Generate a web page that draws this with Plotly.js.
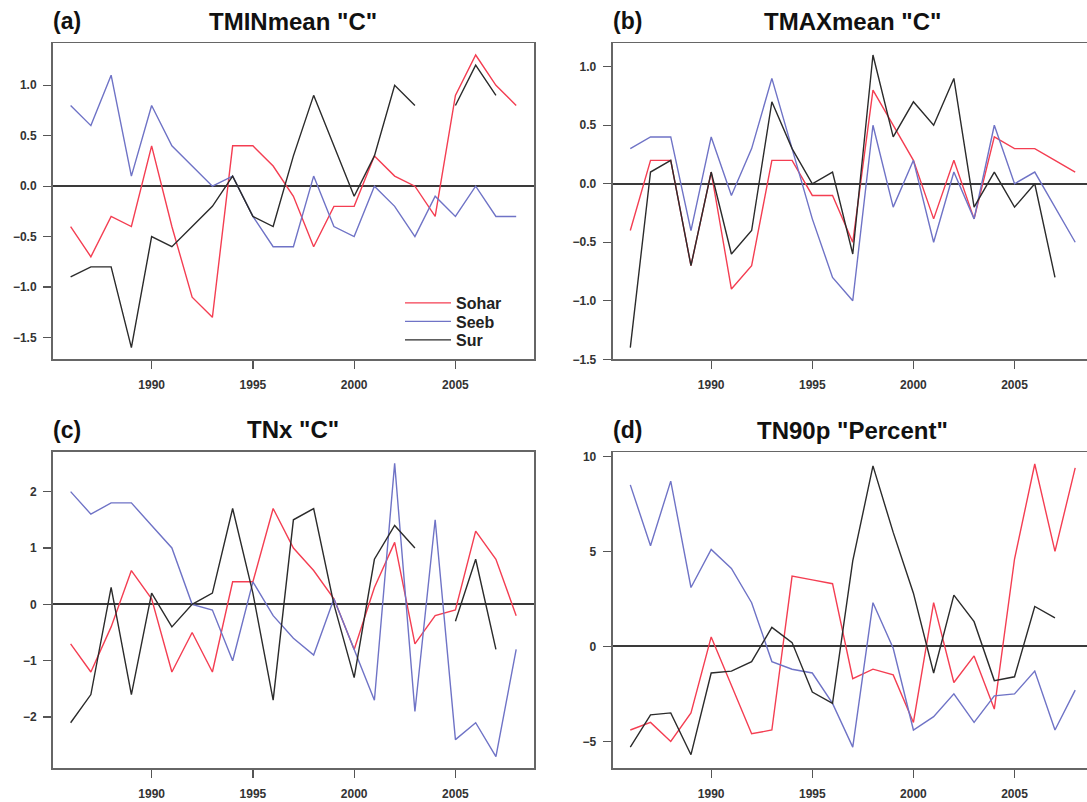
<!DOCTYPE html>
<html>
<head>
<meta charset="utf-8">
<script src="https://cdn.plot.ly/plotly-3.0.1.min.js"></script>
<style>
html, body { margin: 0; padding: 0; background: #fff; overflow: hidden; }
#chart { width: 1100px; height: 802px; }
</style>
</head>
<body>
<div id="chart"></div>
<script>
// ---- Data ----
const years = [1986,1987,1988,1989,1990,1991,1992,1993,1994,1995,1996,1997,1998,1999,2000,2001,2002,2003,2004,2005,2006,2007,2008];
const stations = ["Sohar", "Seeb", "Sur"];

const tminSohar = [-0.4,-0.7,-0.3,-0.4,0.4,-0.4,-1.1,-1.3,0.4,0.4,0.2,-0.1,-0.6,-0.2,-0.2,0.3,0.1,0.0,-0.3,0.9,1.3,1.0,0.8];
const tminSeeb  = [0.8,0.6,1.1,0.1,0.8,0.4,0.2,0.0,0.1,-0.3,-0.6,-0.6,0.1,-0.4,-0.5,0.0,-0.2,-0.5,-0.1,-0.3,0.0,-0.3,-0.3];
const tminSur   = [-0.9,-0.8,-0.8,-1.6,-0.5,-0.6,-0.4,-0.2,0.1,-0.3,-0.4,0.3,0.9,0.4,-0.1,0.3,1.0,0.8,null,0.8,1.2,0.9,null];

const tmaxSohar = [-0.4,0.2,0.2,-0.7,0.1,-0.9,-0.7,0.2,0.2,-0.1,-0.1,-0.5,0.8,0.5,0.2,-0.3,0.2,-0.3,0.4,0.3,0.3,0.2,0.1];
const tmaxSeeb  = [0.3,0.4,0.4,-0.4,0.4,-0.1,0.3,0.9,0.3,-0.3,-0.8,-1.0,0.5,-0.2,0.2,-0.5,0.1,-0.3,0.5,0.0,0.1,-0.2,-0.5];
const tmaxSur   = [-1.4,0.1,0.2,-0.7,0.1,-0.6,-0.4,0.7,0.3,0.0,0.1,-0.6,1.1,0.4,0.7,0.5,0.9,-0.2,0.1,-0.2,0.0,-0.8,null];

const tnxSohar = [-0.7,-1.2,-0.4,0.6,0.1,-1.2,-0.5,-1.2,0.4,0.4,1.7,1.0,0.6,0.1,-0.8,0.3,1.1,-0.7,-0.2,-0.1,1.3,0.8,-0.2];
const tnxSeeb  = [2.0,1.6,1.8,1.8,1.4,1.0,0.0,-0.1,-1.0,0.4,-0.2,-0.6,-0.9,0.1,-0.8,-1.7,2.5,-1.9,1.5,-2.4,-2.1,-2.7,-0.8];
const tnxSur   = [-2.1,-1.6,0.3,-1.6,0.2,-0.4,0.0,0.2,1.7,0.2,-1.7,1.5,1.7,0.0,-1.3,0.8,1.4,1.0,null,-0.3,0.8,-0.8,null];

const tn90Sohar = [-4.4,-4.0,-5.0,-3.5,0.5,-2.0,-4.6,-4.4,3.7,3.5,3.3,-1.7,-1.2,-1.5,-4.0,2.3,-1.9,-0.5,-3.3,4.6,9.6,5.0,9.4];
const tn90Seeb  = [8.5,5.3,8.7,3.1,5.1,4.1,2.3,-0.8,-1.2,-1.4,-3.0,-5.3,2.3,-0.1,-4.4,-3.7,-2.5,-4.0,-2.6,-2.5,-1.3,-4.4,-2.3];
const tn90Sur   = [-5.3,-3.6,-3.5,-5.7,-1.4,-1.3,-0.8,1.0,0.2,-2.4,-3.0,4.5,9.5,6.0,2.8,-1.4,2.7,1.3,-1.8,-1.6,2.1,1.5,null];

const panelLabels = ["(a)", "(b)", "(c)", "(d)"];
const panelTitles = ['TMINmean "C"', 'TMAXmean "C"', 'TNx "C"', 'TN90p "Percent"'];
const xTicks = [1990, 1995, 2000, 2005];
const yTicksA = [-1.5, -1.0, -0.5, 0.0, 0.5, 1.0];
const yTicksB = [-1.5, -1.0, -0.5, 0.0, 0.5, 1.0];
const yTicksC = [-2, -1, 0, 1, 2];
const yTicksD = [-5, 0, 5, 10];

// ---- Styling / layout ----
const W = 1100, H = 802;
const colors = ["#f43e52", "#6f73c6", "#2b2b2b"];
const FONT = "Liberation Sans, Arial, sans-serif";
const legendIds = ["legend", "legend2", "legend3"];
const legendRowsY = [303, 321.5, 340];

const panels = [
  {series: [tminSohar, tminSeeb, tminSur], ticks: yTicksA, fmt: ".1f", range: [-1.716, 1.416], box: [52.8, 534, 43.3, 359.3]},
  {series: [tmaxSohar, tmaxSeeb, tmaxSur], ticks: yTicksB, fmt: ".1f", range: [-1.5, 1.2],     box: [612.5, 1093, 43.3, 359.3]},
  {series: [tnxSohar, tnxSeeb, tnxSur],    ticks: yTicksC, fmt: "d",   range: [-2.908, 2.708], box: [52.8, 534, 451.7, 768.3]},
  {series: [tn90Sohar, tn90Seeb, tn90Sur], ticks: yTicksD, fmt: "d",   range: [-6.416, 10.216], box: [612.5, 1093, 452.3, 768.3]}
];

const traces = [];
const layout = {
  width: W, height: H,
  margin: {l: 0, r: 0, t: 0, b: 0},
  paper_bgcolor: "#fff", plot_bgcolor: "#fff",
  font: {family: FONT, color: "#222"},
  showlegend: true,
  annotations: []
};

legendIds.forEach((id, k) => {
  layout[id] = {
    x: 400 / W, y: 1 - legendRowsY[k] / H, xanchor: "left", yanchor: "middle",
    bgcolor: "rgba(0,0,0,0)", borderwidth: 0,
    font: {family: FONT, size: 16, color: "#222", weight: "bold"},
    itemwidth: 46
  };
});

panels.forEach((p, i) => {
  const n = i + 1;
  const xa = "x" + (n === 1 ? "" : n), ya = "y" + (n === 1 ? "" : n);
  p.series.forEach((vals, k) => {
    traces.push({
      x: years, y: vals, type: "scatter", mode: "lines",
      name: stations[k], xaxis: xa, yaxis: ya,
      line: {color: colors[k], width: 1.4},
      connectgaps: false, showlegend: i === 0, legend: legendIds[k], hoverinfo: "skip"
    });
  });
  const [x0, x1, y0, y1] = p.box;
  const axCommon = {
    showline: true, mirror: true, linecolor: "#666", linewidth: 1.8,
    ticks: "outside", ticklen: 8, tickwidth: 1.3, tickcolor: "#555",
    showgrid: false, fixedrange: true,
    tickfont: {family: FONT, size: 12, color: "#333", weight: "bold"}
  };
  layout["xaxis" + (n === 1 ? "" : n)] = Object.assign({}, axCommon, {
    domain: [x0 / W, x1 / W], range: [1985.12, 2008.88],
    tickmode: "array", tickvals: xTicks, ticktext: xTicks.map(String),
    zeroline: false, anchor: ya, ticklabelstandoff: 5
  });
  layout["yaxis" + (n === 1 ? "" : n)] = Object.assign({}, axCommon, {
    domain: [1 - y1 / H, 1 - y0 / H], range: p.range,
    tickmode: "array", tickvals: p.ticks, tickformat: p.fmt,
    zeroline: true, zerolinecolor: "#3a3a3a", zerolinewidth: 2,
    anchor: xa, ticklabelstandoff: 4
  });
  // panel letter
  layout.annotations.push({
    xref: "paper", yref: "paper", x: (x0 - 2) / W, y: 1 - (y0 - 22) / H,
    xanchor: "left", yanchor: "middle", showarrow: false,
    text: panelLabels[i], font: {family: FONT, size: 23, color: "#111", weight: "bold"}
  });
  // panel title
  layout.annotations.push({
    xref: "paper", yref: "paper", x: ((x0 + x1) / 2) / W, y: 1 - (y0 - 22) / H,
    xanchor: "center", yanchor: "middle", showarrow: false,
    text: panelTitles[i], font: {family: FONT, size: 24, color: "#111", weight: "bold"}
  });
});

Plotly.newPlot("chart", traces, layout, {displayModeBar: false, staticPlot: true});
</script>
</body>
</html>
